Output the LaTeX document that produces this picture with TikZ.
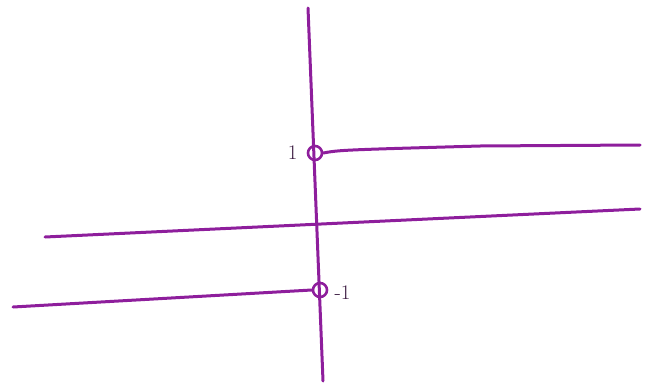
\documentclass[tikz,border=0pt]{standalone}
\usepackage{tikz}
\usetikzlibrary{positioning}
\definecolor{penPurple}{HTML}{8E1E9C}
\definecolor{penDark}{HTML}{3A1A40}

\begin{document}
\begin{tikzpicture}[
  x=1pt,y=-1pt,
  every node/.style={font=\huge},
  ln/.style={draw=penPurple,line width=3pt,line cap=round},
  ring/.style={circle,draw=penPurple,line width=2.6pt,inner sep=0pt,minimum size=14pt},
  lbl/.style={text=penDark,inner sep=1pt},
]
  \useasboundingbox (0,0) rectangle (645,391);

  \coordinate (top) at (308,8);
  \coordinate (bot) at (323,381);
  \node[ring] (p1) at (315,153) {};
  \node[ring] (m1) at (320,290) {};
  \node[lbl,left=8pt of p1] (l1) {1};
  \node[lbl,right=5pt of m1,yshift=-3pt] (lm1) {-1};

  \coordinate (upR) at (640,145);
  \coordinate (midL) at (45,237);
  \coordinate (midR) at (640,209);
  \coordinate (lowL) at (13,307);

  \draw[ln] (top) -- (bot);
  \draw[ln] (p1.east) .. controls (340,150) .. (480,146) -- (upR);
  \draw[ln] (midL) -- (midR);
  \draw[ln] (lowL) -- (m1.west);
\end{tikzpicture}
\end{document}
